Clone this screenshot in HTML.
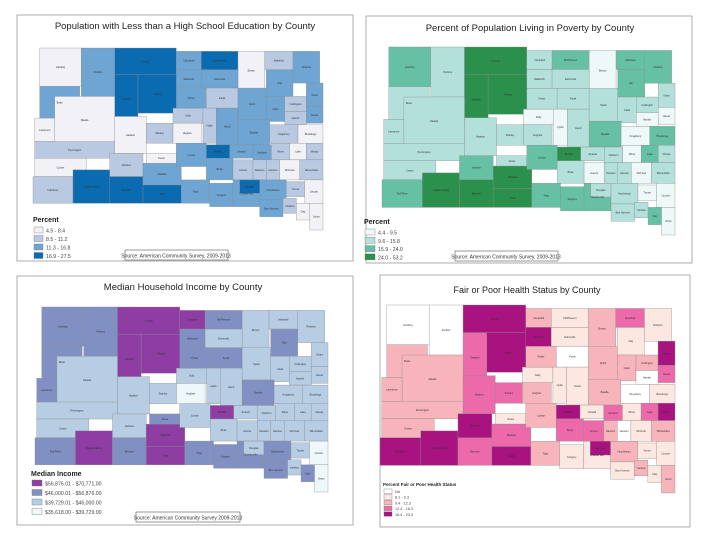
<!DOCTYPE html>
<html><head><meta charset="utf-8"><style>
html,body{margin:0;padding:0;background:#fff;}
svg{display:block;font-family:"Liberation Sans",sans-serif;}
</style></head><body>
<svg id="s" width="720" height="540" viewBox="0 0 720 540">
<rect x="17" y="15" width="336" height="246" fill="#fff" stroke="#999" stroke-width="0.8"/>
<rect x="366" y="16" width="326" height="247" fill="#fff" stroke="#999" stroke-width="0.8"/>
<rect x="17" y="276" width="336" height="249" fill="#fff" stroke="#999" stroke-width="0.8"/>
<rect x="380" y="275" width="310" height="252" fill="#fff" stroke="#999" stroke-width="0.8"/>
<text x="185" y="29" font-size="9.5" text-anchor="middle" fill="#222">Population with Less than a High School Education by County</text>
<text x="530" y="31" font-size="9.5" text-anchor="middle" fill="#222">Percent of Population Living in Poverty by County</text>
<text x="183" y="290" font-size="9.5" text-anchor="middle" fill="#222">Median Household Income by County</text>
<text x="527" y="293" font-size="9" text-anchor="middle" fill="#222">Fair or Poor Health Status by County</text>
<g id="maps"></g>
<g id="legends"></g>
<rect x="125" y="250" width="103" height="10" fill="#fff" stroke="#555" stroke-width="0.6"/>
<text x="176" y="257.5" font-size="5" text-anchor="middle" fill="#333">Source: American Community Survey, 2009-2013</text>
<rect x="455" y="251" width="103" height="10" fill="#fff" stroke="#555" stroke-width="0.6"/>
<text x="506" y="258.5" font-size="5" text-anchor="middle" fill="#333">Source: American Community Survey, 2009-2013</text>
<rect x="136" y="512" width="104" height="10" fill="#fff" stroke="#555" stroke-width="0.6"/>
<text x="188" y="519.5" font-size="5" text-anchor="middle" fill="#333">Source: American Community Survey 2009-2013</text>
</svg>
<script>
const counties=["Harding","Perkins","Corson","Ziebach","Dewey","Campbell","McPherson","Brown","Marshall","Roberts","Walworth","Edmunds","Butte","Meade","Lawrence","Pennington","Custer","Fall River","Oglala Lakota","Jackson","Bennett","Todd","Mellette","Haakon","Jones","Stanley","Sully","Potter","Faulk","Hughes","Hyde","Hand","Spink","Day","Clark","Codington","Grant","Deuel","Hamlin","Beadle","Kingsbury","Brookings","Buffalo","Jerauld","Sanborn","Miner","Lake","Moody","Lyman","Brule","Aurora","Davison","Hanson","McCook","Minnehaha","Tripp","Gregory","Charles Mix","Douglas","Hutchinson","Turner","Lincoln","Bon Homme","Yankton","Clay","Union"];
const eduClass=[0,2,3,3,3,2,3,0,1,2,2,2,2,0,0,1,0,1,3,1,3,3,2,0,0,1,1,2,1,0,1,2,2,2,2,1,2,2,1,2,1,0,3,2,2,1,0,1,2,2,1,1,1,0,1,2,2,2,3,2,1,0,2,1,0,0];
const povClass=[2,1,3,3,3,1,2,0,2,2,1,1,1,1,1,1,1,2,3,2,3,3,3,1,1,1,0,1,1,1,0,1,1,2,1,1,1,0,0,2,0,2,3,1,1,0,2,1,2,1,0,1,1,0,1,2,2,2,1,1,0,0,1,1,2,0];
const incClass=[2,2,3,3,3,3,2,1,1,1,2,1,2,1,2,1,1,2,3,1,2,3,3,1,2,1,1,2,2,0,1,1,1,2,1,1,1,1,1,2,1,1,3,1,1,1,1,1,1,1,1,1,1,1,1,2,2,2,1,2,1,0,2,1,2,0];
const hlthClass=[0,0,4,3,4,2,1,2,3,1,4,1,2,2,2,2,2,4,4,4,3,4,3,3,1,3,1,2,0,2,1,1,2,1,2,2,4,3,0,2,0,1,4,1,3,1,3,4,2,3,3,2,0,1,2,2,1,1,4,2,1,1,1,2,1,2];
const eduLabels=["4.5 - 8.4","8.5 - 11.2","11.3 - 16.8","16.9 - 27.5"];
const povLabels=["4.4 - 9.5","9.6 - 15.8","15.9 - 24.0","24.0 - 53.2"];
const incLabels=["$35,618.00 - $39,729.00","$39,729.01 - $46,000.00","$46,000.01 - $56,876.00","$56,876.01 - $70,771.00"];
const hlthLabels=["NA","8.1 - 9.3","9.4 - 12.3","12.4 - 16.3","16.4 - 23.3"];
// layout shapes (reference units)
const shapes=[[120,145,245,260],[245,145,345,290],[345,145,530,225],[345,225,415,370],[415,225,535,340],[530,155,605,210],[605,155,715,210],[715,155,795,270],[795,155,880,210],[880,155,960,250],[530,210,605,265],[605,210,715,265],[120,260,240,355],[165,290,345,430],[105,355,165,425],[105,425,345,475],[105,475,260,530],[100,530,220,610],[220,510,330,610],[330,460,430,530],[330,530,430,610],[430,555,545,610],[430,490,545,555],[345,350,440,460],[440,460,530,490],[440,370,520,430],[520,325,610,370],[530,265,620,325],[620,265,715,325],[520,370,605,430],[610,325,650,430],[650,325,715,435],[715,265,800,360],[800,210,880,290],[800,290,855,365],[855,290,920,335],[920,250,970,320],[920,320,970,370],[855,335,920,375],[715,360,810,435],[810,375,895,430],[895,375,970,430],[620,435,690,475],[690,435,760,475],[760,435,815,480],[815,430,870,480],[870,430,920,480],[920,430,970,480],[530,430,620,500],[620,475,700,540],[700,480,760,540],[760,480,800,540],[800,480,840,540],[840,480,900,540],[900,480,970,540],[545,540,630,610],[630,550,700,620],[700,540,780,620],[720,540,780,580],[780,540,860,600],[860,545,915,590],[915,540,970,610],[780,600,850,650],[850,595,890,640],[890,610,930,660],[930,610,970,690]];
const maps=[
 {key:"education",cls:eduClass,box:[33,48,323,230],cols:["#f1f1f6","#b9c9e1","#6ea5d3","#0b6bb0"],labels:eduLabels,ltitle:"Percent",lx:33,ly:222,ly0:227,dy:8.5,sw:9,sh:6},
 {key:"poverty",cls:povClass,box:[382,47,675,235],cols:["#eef8f8","#b3e0db","#66c0a4","#2b904b"],labels:povLabels,ltitle:"Percent",lx:364,ly:224,ly0:229,dy:8.3,sw:10,sh:6},
 {key:"income",cls:incClass,box:[35,307,328,492],cols:["#eef7fa","#b7cde3","#8190c3","#8e3da3"],labels:incLabels.slice().reverse(),ltitle:"Median Income",lx:31,ly:476,ly0:480,dy:9.5,sw:10,sh:6,rev:true},
 {key:"health",cls:hlthClass,box:[380,305,675,493],cols:["#ffffff","#fde8e1","#f7b4bb","#ec6aa9","#a8137f"],labels:hlthLabels,ltitle:"Percent Fair or Poor Health Status",lx:383,ly:486,ly0:489,dy:5.7,sw:8,sh:4.5}
];
const NS="http://www.w3.org/2000/svg";
const g=document.getElementById("maps"), lg=document.getElementById("legends");
maps.forEach(m=>{
 const [bx0,by0,bx1,by1]=m.box;
 const sx=u=>bx0+(u-100)/870*(bx1-bx0);
 const sy=v=>by0+(v-145)/545*(by1-by0);
 const grp=document.createElementNS(NS,"g");
 
 
 g.appendChild(grp);
 counties.forEach((c,i)=>{
  const s=shapes[i];
  const r=document.createElementNS(NS,"rect");
  r.setAttribute("x",sx(s[0]));r.setAttribute("y",sy(s[1]));
  r.setAttribute("width",sx(s[2])-sx(s[0]));r.setAttribute("height",sy(s[3])-sy(s[1]));
  r.setAttribute("fill",m.cols[m.cls[i]]);
  r.setAttribute("stroke","#8a8a8a");r.setAttribute("stroke-width","0.35");
  
  
  grp.appendChild(r);
 });
 counties.forEach((c,i)=>{
  const s=shapes[i];
  const t=document.createElementNS(NS,"text");
  t.setAttribute("x",(sx(s[0])+sx(s[2]))/2);t.setAttribute("y",(sy(s[1])+sy(s[3]))/2+1);
  t.setAttribute("font-size","2.6");t.setAttribute("text-anchor","middle");t.setAttribute("fill","#333");
  t.textContent=c;
  
  
  grp.appendChild(t);
 });
 const t=document.createElementNS(NS,"text");
 t.setAttribute("x",m.lx);t.setAttribute("y",m.ly);
 t.setAttribute("font-size",m.key==="health"?"4.5":"7");t.setAttribute("font-weight","bold");t.setAttribute("fill","#222");
 t.textContent=m.ltitle;
 
 
 lg.appendChild(t);
 const n=m.labels.length;
 for(let k=0;k<n;k++){
  const ci=m.rev?(n-1-k):k;
  const y=m.ly0+k*m.dy;
  const r=document.createElementNS(NS,"rect");
  r.setAttribute("x",m.lx+1);r.setAttribute("y",y);r.setAttribute("width",m.sw);r.setAttribute("height",m.sh);
  r.setAttribute("fill",m.cols[ci]);r.setAttribute("stroke","#777");r.setAttribute("stroke-width","0.4");
  
  
  lg.appendChild(r);
  const tx=document.createElementNS(NS,"text");
  tx.setAttribute("x",m.lx+m.sw+4);tx.setAttribute("y",y+m.sh-0.5);
  tx.setAttribute("font-size",m.key==="health"?"3.8":"5.2");tx.setAttribute("fill","#444");
  tx.textContent=m.labels[k];
  
  
  lg.appendChild(tx);
 }
});
</script>
</body></html>
